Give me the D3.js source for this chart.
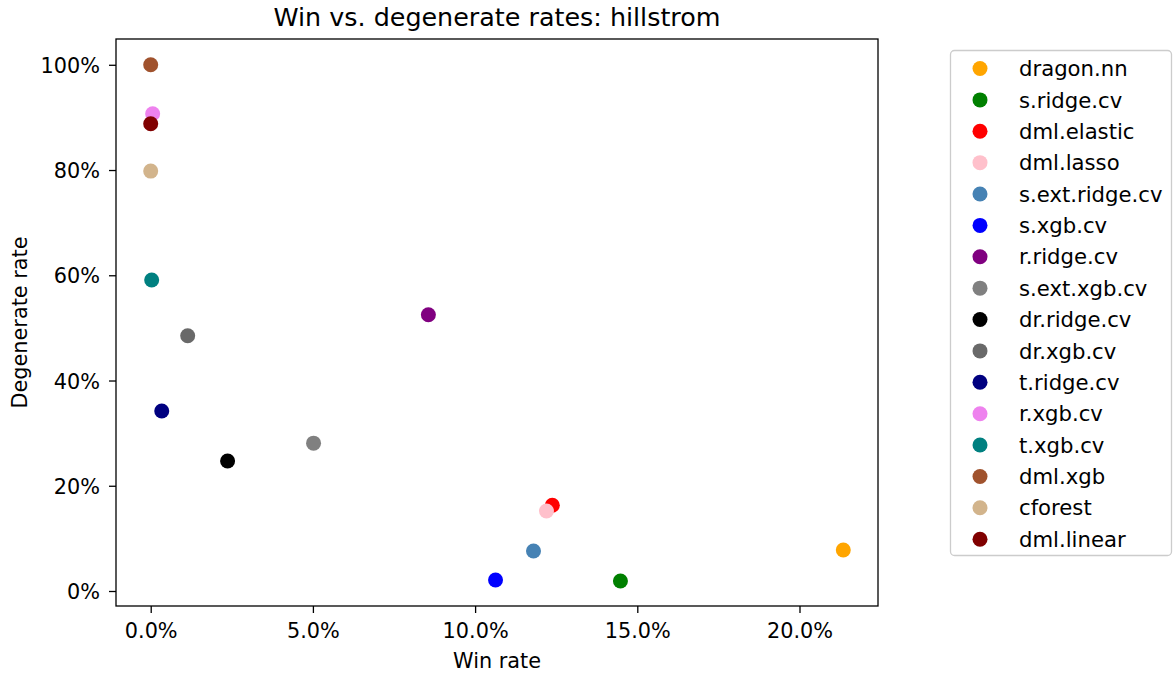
<!DOCTYPE html>
<html><head><meta charset="utf-8">
<script src="https://cdn.jsdelivr.net/npm/d3@7"></script>
<style>body{margin:0;background:#fff;} svg{display:block;font-family:"DejaVu Sans",sans-serif;}</style>
</head><body><svg id="c" width="1175" height="677"></svg>
<script>
const methods = ["dragon.nn","s.ridge.cv","dml.elastic","dml.lasso","s.ext.ridge.cv","s.xgb.cv","r.ridge.cv","s.ext.xgb.cv","dr.ridge.cv","dr.xgb.cv","t.ridge.cv","r.xgb.cv","t.xgb.cv","dml.xgb","cforest","dml.linear"];
const winRate = [0.2135,0.1448,0.1238,0.1220,0.1180,0.1063,0.0856,0.0502,0.0237,0.0114,0.0034,0.0006,0.0003,0.0,0.0,0.0];
const degenerateRate = [0.078,0.019,0.163,0.152,0.076,0.021,0.525,0.281,0.247,0.485,0.342,0.907,0.591,1.0,0.798,0.888];
const colors = ["#ffa500","#008000","#ff0000","#ffc0cb","#4682b4","#0000ff","#800080","#808080","#000000","#696969","#000080","#ee82ee","#008080","#a0522d","#d2b48c","#800000"];
const xTicks = [0,0.05,0.10,0.15,0.20];
const yTicks = [0,0.2,0.4,0.6,0.8,1.0];

const svg = d3.select("#c");
const L=116,R=878,T=39,B=606;
const FS = 20.8;
const x = d3.scaleLinear().domain([-0.0107,0.2242]).range([L,R]);
const y = d3.scaleLinear().domain([-0.0285,1.049]).range([B,T]);

const xa = svg.append("g").attr("transform",`translate(0,${B})`)
  .call(d3.axisBottom(x).tickValues(xTicks).tickFormat(d3.format(".1%")).tickSize(7).tickPadding(7));
const ya = svg.append("g").attr("transform",`translate(${L},0)`)
  .call(d3.axisLeft(y).tickValues(yTicks).tickFormat(d3.format(".0%")).tickSize(7).tickPadding(7));
[xa,ya].forEach(a=>{a.select(".domain").remove();a.selectAll("text").attr("font-size",FS).attr("font-family","DejaVu Sans").attr("fill","#000");a.selectAll("line").attr("stroke","#000").attr("stroke-width",1.3);});
xa.selectAll("text").attr("dy",null).attr("y",null).attr("transform","translate(0,32)");
ya.selectAll("text").attr("dx","-2").attr("dy","0.36em");

svg.append("g").selectAll("circle").data(methods).join("circle")
  .attr("cx",(d,i)=>x(winRate[i])).attr("cy",(d,i)=>y(degenerateRate[i]))
  .attr("r",7.5).attr("fill",(d,i)=>colors[i]);

svg.append("rect").attr("x",L).attr("y",T).attr("width",R-L).attr("height",B-T)
  .attr("fill","none").attr("stroke","#000").attr("stroke-width",1.3);

svg.append("text").attr("x",(L+R)/2).attr("y",26).attr("text-anchor","middle").attr("font-size",25.4).text("Win vs. degenerate rates: hillstrom");
svg.append("text").attr("x",(L+R)/2).attr("y",668).attr("text-anchor","middle").attr("font-size",FS).text("Win rate");
svg.append("text").attr("transform",`translate(27,${(T+B)/2}) rotate(-90)`).attr("text-anchor","middle").attr("font-size",FS).text("Degenerate rate");

const lg = svg.append("g");
lg.append("rect").attr("x",950.5).attr("y",50.5).attr("width",221).attr("height",505).attr("rx",4)
  .attr("fill","#fff").attr("stroke","#ccc").attr("stroke-width",1.3);
const spacing = 31.38;
methods.forEach((m,i)=>{
  const yy = 68.5 + i*spacing;
  lg.append("circle").attr("cx",980).attr("cy",yy).attr("r",7.5).attr("fill",colors[i]);
  lg.append("text").attr("x",1019).attr("y",yy).attr("dy","0.36em").attr("font-size",21.2).text(m);
});
</script></body></html>
